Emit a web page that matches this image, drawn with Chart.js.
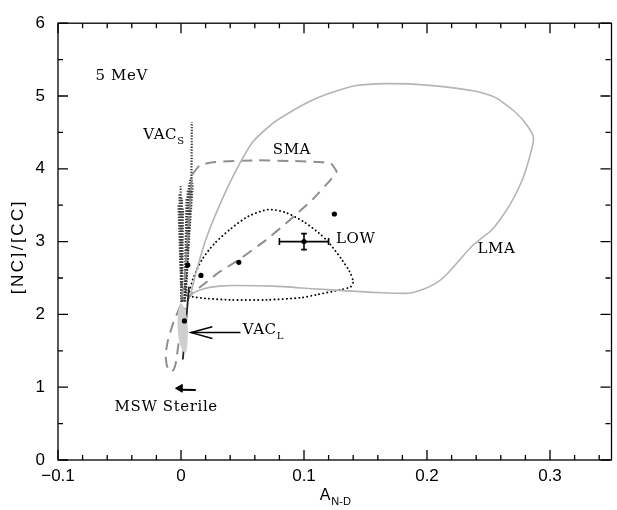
<!DOCTYPE html>
<html>
<head>
<meta charset="utf-8">
<script src="https://cdn.jsdelivr.net/npm/chart.js@4.4.1/dist/chart.umd.min.js"></script>
<style>
  html, body { margin: 0; padding: 0; background: #fff; }
  #wrap { width: 617px; height: 510px; }
</style>
</head>
<body>
<div id="wrap"><canvas id="myChart"></canvas></div>
<script>
// A_N-D vs [NC]/[CC] at 5 MeV threshold

// axis ticks
const xTickValues = [-0.1, 0, 0.1, 0.2, 0.3];
const xTickLabels = ["\u22120.1", "0", "0.1", "0.2", "0.3"];
const yTickValues = [0, 1, 2, 3, 4, 5, 6];
const yTickLabels = ["0", "1", "2", "3", "4", "5", "6"];

// LMA contour (solid)
const lmaContour = [
  [0.0076, 2.26], [0.0123, 2.58], [0.020, 3.02], [0.0306, 3.47], [0.043, 3.92],
  [0.058, 4.36], [0.075, 4.63], [0.088, 4.77], [0.104, 4.92], [0.1196, 5.03],
  [0.1416, 5.14], [0.1675, 5.17], [0.1996, 5.15], [0.2398, 5.066], [0.2558, 4.978],
  [0.2719, 4.777], [0.2813, 4.598], [0.2866, 4.428], [0.284, 4.196], [0.2773, 3.84],
  [0.2665, 3.48], [0.2532, 3.17], [0.2371, 2.946], [0.2157, 2.545], [0.2076, 2.433],
  [0.197, 2.344], [0.1847, 2.29], [0.16, 2.3], [0.1385, 2.32], [0.1069, 2.353],
  [0.0754, 2.388], [0.0438, 2.397], [0.0312, 2.388], [0.0186, 2.353], [0.0107, 2.30],
  [0.0076, 2.26]
];

// SMA contour (dashed)
const smaContour = [
  [0.009, 3.92], [0.0155, 4.05], [0.028, 4.094], [0.06, 4.116], [0.091, 4.107],
  [0.113, 4.094], [0.122, 4.07], [0.1265, 3.96], [0.1227, 3.87], [0.107, 3.58],
  [0.088, 3.29], [0.069, 3.02], [0.047, 2.75], [0.031, 2.58], [0.019, 2.42],
  [0.009, 2.29], [0.004, 2.15], [0.001, 1.9], [-0.002, 1.6], [-0.004, 1.35],
  [-0.006, 1.24], [-0.009, 1.21], [-0.0115, 1.3], [-0.0125, 1.45], [-0.0105, 1.65],
  [-0.006, 1.9], [-0.001, 2.1], [0.003, 2.5], [0.006, 3.2], [0.009, 3.92]
];

// LOW contour (dotted)
const lowContour = [
  [0.006, 2.26], [0.010, 2.5], [0.017, 2.75], [0.027, 2.97], [0.04, 3.17],
  [0.055, 3.35], [0.071, 3.44], [0.085, 3.4], [0.1, 3.27], [0.112, 3.12],
  [0.12, 2.99], [0.13, 2.77], [0.137, 2.59], [0.14, 2.45], [0.138, 2.38],
  [0.13, 2.34], [0.11, 2.27], [0.098, 2.23], [0.07, 2.2], [0.04, 2.2],
  [0.02, 2.22], [0.01, 2.24], [0.006, 2.26]
];

// VAC_S fan of dotted lines
const vacSLines = [
  [[0.0005, 2.17], [-0.002, 3.5]],
  [[0.0005, 2.17], [-0.0012, 3.65]],
  [[0.0005, 2.17], [-0.0003, 3.76]],
  [[0.0008, 2.17], [0.0008, 3.6]],
  [[0.0008, 2.17], [0.0016, 3.45]],
  [[0.003, 2.18], [0.0045, 3.6]],
  [[0.003, 2.18], [0.0055, 3.7]],
  [[0.003, 2.18], [0.0065, 3.8]],
  [[0.003, 2.18], [0.0075, 3.85]],
  [[0.003, 2.18], [0.0086, 3.88]],
  [[0.003, 2.18], [0.0096, 3.8]],
  [[0.004, 2.25], [0.0085, 3.9], [0.0088, 4.64]]
];

// VAC_L region
const vacLRegion = [
  [-0.0006, 2.165], [0.0025, 2.1], [0.0048, 1.95], [0.0056, 1.8], [0.0052, 1.6],
  [0.0038, 1.47], [0.0013, 1.5], [-0.0017, 1.65], [-0.0028, 1.85], [-0.0022, 2.05],
  [-0.0006, 2.165]
];
const vacLLine = [[0.0065, 2.38], [0.0015, 1.38]];
const vacLArrowShaft = [[0.0483, 1.75], [0.0082, 1.75]];
const vacLArrowHead = [[0.0255, 1.83], [0.0082, 1.75], [0.0255, 1.67]];

// MSW sterile
const sterilePoint = [[-0.0008, 0.985]];
const sterileLine = [[0.0, 0.965], [0.012, 0.96]];

// best-fit points
const bestFitX = [0.1247, 0.047, 0.0055, 0.0162, 0.0028, 0.1];
const bestFitY = [3.379, 2.715, 2.678, 2.535, 1.91, 3.0];

// measured point with errors
const measX = 0.1, measY = 3.0, measXErr = 0.02, measYErr = 0.11;

const toXY = pts => pts.map(p => ({ x: p[0], y: p[1] }));

function lineSet(pts, style) {
  return Object.assign({
    data: toXY(pts),
    showLine: true,
    pointRadius: 0,
    fill: false,
    tension: 0,
    order: 3
  }, style);
}

const datasets = [
  lineSet(lmaContour, { borderColor: "#b4b4b4", borderWidth: 1.6, tension: 0.2 }),
  lineSet(smaContour, { borderColor: "#8f8f8f", borderWidth: 2, borderDash: [11, 7], tension: 0.15 }),
  lineSet(lowContour, { borderColor: "#000", borderWidth: 1.9, borderDash: [0.1, 4], borderCapStyle: "round", tension: 0.25 })
];
vacSLines.forEach(seg => {
  datasets.push(lineSet(seg, { borderColor: "#3c3c3c", borderWidth: 2.2, borderDash: [1.4, 1.4] }));
});
datasets.push(lineSet(vacLLine, { borderColor: "#222", borderWidth: 1.8, order: 2 }));
datasets.push(lineSet(vacLRegion, { borderWidth: 0, backgroundColor: "#cfcfcf", fill: "shape", tension: 0.3, order: 1 }));
datasets.push(lineSet(vacLArrowShaft, { borderColor: "#000", borderWidth: 1.5 }));
datasets.push(lineSet(vacLArrowHead, { borderColor: "#000", borderWidth: 1.5 }));
datasets.push(lineSet(sterileLine, { borderColor: "#000", borderWidth: 2 }));
datasets.push({
  data: toXY(sterilePoint),
  pointStyle: "triangle",
  rotation: -90,
  pointRadius: 4.5,
  backgroundColor: "#000",
  borderColor: "#000",
  order: 0
});
datasets.push({
  data: bestFitX.map((v, i) => ({ x: v, y: bestFitY[i] })),
  pointRadius: 2.6,
  backgroundColor: "#000",
  borderWidth: 0,
  order: 0
});

// labels inside the frame
const notes = [
  { text: "5 MeV", x: -0.0695, y: 5.27 },
  { text: "VAC", sub: "S", x: -0.0307, y: 4.46 },
  { text: "SMA", x: 0.0746, y: 4.25 },
  { text: "LOW", x: 0.126, y: 3.04 },
  { text: "LMA", x: 0.2411, y: 2.90 },
  { text: "VAC", sub: "L", x: 0.0502, y: 1.78 },
  { text: "MSW Sterile", x: -0.054, y: 0.72 }
];

const frameTicks = {
  id: "frameTicks",
  afterDraw(chart) {
    const { ctx, chartArea: a, scales: { x, y } } = chart;
    ctx.save();
    ctx.strokeStyle = "#000";
    ctx.lineWidth = 1.3;
    ctx.strokeRect(a.left, a.top, a.right - a.left, a.bottom - a.top);
    ctx.beginPath();
    for (let i = 0; i <= 22; i++) {
      const px = x.getPixelForValue(-0.1 + i * 0.02);
      const len = i % 5 === 0 ? 10 : 5;
      ctx.moveTo(px, a.bottom); ctx.lineTo(px, a.bottom - len);
      ctx.moveTo(px, a.top); ctx.lineTo(px, a.top + len);
    }
    for (let i = 0; i <= 12; i++) {
      const py = y.getPixelForValue(i * 0.5);
      const len = i % 2 === 0 ? 10 : 5;
      ctx.moveTo(a.left, py); ctx.lineTo(a.left + len, py);
      ctx.moveTo(a.right - 1, py); ctx.lineTo(a.right - 1 - len, py);
    }
    ctx.stroke();

    // axis titles
    ctx.fillStyle = "#000";
    ctx.font = "17px 'Liberation Sans'";
    ctx.letterSpacing = "2.5px";
    ctx.textAlign = "center";
    ctx.textBaseline = "middle";
    ctx.save();
    ctx.translate(18, (a.top + a.bottom) / 2 + 5);
    ctx.rotate(-Math.PI / 2);
    ctx.fillText("[NC]/[CC]", 0, 0);
    ctx.restore();

    ctx.letterSpacing = "0px";
    const cx = (a.left + a.right) / 2;
    ctx.textAlign = "left";
    ctx.font = "16px 'Liberation Sans'";
    const wA = ctx.measureText("A").width;
    ctx.font = "11px 'Liberation Sans'";
    const wSub = ctx.measureText("N-D").width;
    const startX = cx - (wA + wSub) / 2;
    ctx.font = "16px 'Liberation Sans'";
    ctx.fillText("A", startX, 496);
    ctx.font = "11px 'Liberation Sans'";
    ctx.fillText("N-D", startX + wA + 1, 502);
    ctx.restore();
  },
  afterDatasetsDraw(chart) {
    const { ctx, scales: { x, y } } = chart;
    ctx.save();
    // error bars
    ctx.strokeStyle = "#000";
    ctx.lineWidth = 1.6;
    const x0 = x.getPixelForValue(measX - measXErr), x1 = x.getPixelForValue(measX + measXErr);
    const y0 = y.getPixelForValue(measY - measYErr), y1 = y.getPixelForValue(measY + measYErr);
    const cx = x.getPixelForValue(measX), cy = y.getPixelForValue(measY);
    ctx.beginPath();
    ctx.moveTo(x0, cy); ctx.lineTo(x1, cy);
    ctx.moveTo(x0, cy - 3.5); ctx.lineTo(x0, cy + 3.5);
    ctx.moveTo(x1, cy - 3.5); ctx.lineTo(x1, cy + 3.5);
    ctx.moveTo(cx, y0); ctx.lineTo(cx, y1);
    ctx.moveTo(cx - 2.8, y0); ctx.lineTo(cx + 2.8, y0);
    ctx.moveTo(cx - 2.8, y1); ctx.lineTo(cx + 2.8, y1);
    ctx.stroke();

    // labels
    ctx.fillStyle = "#000";
    ctx.textAlign = "left";
    ctx.textBaseline = "middle";
    notes.forEach(n => {
      const px = x.getPixelForValue(n.x), py = y.getPixelForValue(n.y);
      ctx.font = "15px 'DejaVu Serif'";
      ctx.letterSpacing = "0.6px";
      ctx.fillText(n.text, px, py);
      if (n.sub) {
        const w = ctx.measureText(n.text).width;
        ctx.font = "10px 'DejaVu Serif'";
        ctx.letterSpacing = "0px";
        ctx.fillText(n.sub, px + w, py + 6);
      }
    });
    ctx.restore();
  }
};

const ctx1 = document.getElementById("myChart").getContext("2d");
new Chart(ctx1, {
  type: "scatter",
  data: { datasets: datasets },
  options: {
    responsive: true,
    maintainAspectRatio: false,
    animation: false,
    layout: { padding: { top: 11, right: 0, bottom: 0, left: 0 } },
    plugins: { legend: { display: false }, tooltip: { enabled: false } },
    scales: {
      x: {
        type: "linear",
        min: -0.1,
        max: 0.35,
        grid: { display: false, drawTicks: false },
        border: { display: false },
        afterBuildTicks: s => { s.ticks = xTickValues.map(v => ({ value: v })); },
        afterFit: s => { s.height = 50; },
        ticks: {
          padding: 6,
          autoSkip: false,
          maxRotation: 0,
          color: "#000",
          font: { family: "'Liberation Sans'", size: 17 },
          callback: (v, i) => xTickLabels[i]
        }
      },
      y: {
        type: "linear",
        min: 0,
        max: 6,
        grid: { display: false, drawTicks: false },
        border: { display: false },
        afterBuildTicks: s => { s.ticks = yTickValues.map(v => ({ value: v })); },
        afterFit: s => { s.width = 58; },
        ticks: {
          padding: 13,
          color: "#000",
          font: { family: "'Liberation Sans'", size: 17 },
          callback: (v, i) => yTickLabels[i]
        }
      }
    }
  },
  plugins: [frameTicks]
});
</script>
</body>
</html>
